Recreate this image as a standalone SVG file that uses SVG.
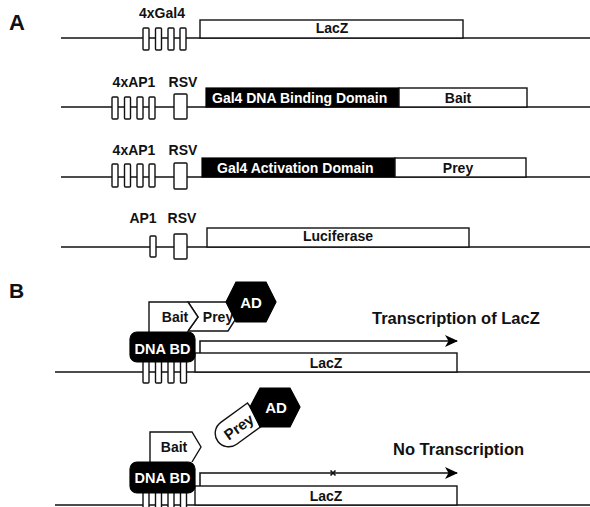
<svg xmlns="http://www.w3.org/2000/svg" width="590" height="507" viewBox="0 0 590 507">
<style>
  text { font-family: "Liberation Sans", Arial, Helvetica, sans-serif; font-weight: bold; fill: #111; }
  .lbl { font-size: 14px; }
  .big { font-size: 16.5px; }
  .panel { font-size: 22px; }
  .wt { fill: #fff; }
  .mid { text-anchor: middle; }
  .box { fill: #fff; stroke: #111; stroke-width: 1.4; }
  .blk { fill: #000; stroke: #000; stroke-width: 1.2; }
  .ln { fill: none; stroke: #111; stroke-width: 1.5; }
</style>
<defs>
  <marker id="ah" viewBox="0 0 13 12" refX="12" refY="6" markerWidth="13" markerHeight="12" markerUnits="userSpaceOnUse" orient="auto">
    <path d="M0,0 L13,6 L0,12 L3.5,6 Z" fill="#000"/>
  </marker>
</defs>
<rect width="590" height="507" fill="#fff"/>

<text class="panel" x="9" y="30">A</text>
<text class="panel" x="9" y="298" style="font-size:21px">B</text>

<g id="connectors">
  <line class="ln" x1="61" y1="38" x2="590" y2="38"/>
  <line class="ln" x1="61" y1="107" x2="590" y2="107"/>
  <line class="ln" x1="61" y1="177" x2="590" y2="177"/>
  <line class="ln" x1="61" y1="247" x2="590" y2="247"/>
  <line class="ln" x1="55" y1="372" x2="590" y2="372"/>
  <line class="ln" x1="55" y1="505" x2="590" y2="505"/>
  <path class="ln" d="M200,353 V341 H457" marker-end="url(#ah)"/>
  <path class="ln" d="M200,486 V473 H457" marker-end="url(#ah)"/>
  <path d="M330.5,470.5 L335.5,475.5 M335.5,470.5 L330.5,475.5" stroke="#111" stroke-width="1.6"/>
</g>

<g id="row1">
  <text class="lbl mid" x="162" y="18">4xGal4</text>
  <rect class="box" x="143" y="28" width="6" height="22" rx="1"/>
  <rect class="box" x="155.5" y="28" width="6" height="22" rx="1"/>
  <rect class="box" x="168" y="28" width="6" height="22" rx="1"/>
  <rect class="box" x="180" y="28" width="6" height="22" rx="1"/>
  <rect class="box" x="200" y="20" width="263" height="18"/>
  <text class="lbl mid" x="332" y="33">LacZ</text>
</g>

<g id="row2">
  <text class="lbl mid" x="134" y="87">4xAP1</text>
  <text class="lbl mid" x="183" y="87">RSV</text>
  <rect class="box" x="112" y="97" width="6" height="22" rx="1"/>
  <rect class="box" x="124.5" y="97" width="6" height="22" rx="1"/>
  <rect class="box" x="137" y="97" width="6" height="22" rx="1"/>
  <rect class="box" x="149" y="97" width="6" height="22" rx="1"/>
  <rect class="box" x="174" y="94" width="13" height="25" rx="1"/>
  <rect class="blk" x="206" y="88" width="193" height="19"/>
  <rect class="box" x="399" y="88" width="128" height="19"/>
  <text class="lbl wt" x="212" y="102.5">Gal4 DNA Binding Domain</text>
  <text class="lbl mid" x="458" y="102.5">Bait</text>
</g>

<g id="row3">
  <text class="lbl mid" x="134" y="155">4xAP1</text>
  <text class="lbl mid" x="183" y="155">RSV</text>
  <rect class="box" x="112" y="164" width="6" height="23" rx="1"/>
  <rect class="box" x="124.5" y="164" width="6" height="23" rx="1"/>
  <rect class="box" x="137" y="164" width="6" height="23" rx="1"/>
  <rect class="box" x="149" y="164" width="6" height="23" rx="1"/>
  <rect class="box" x="174" y="163" width="13" height="26" rx="1"/>
  <rect class="blk" x="202" y="158" width="193" height="19"/>
  <rect class="box" x="395" y="158" width="131" height="19"/>
  <text class="lbl wt" x="217" y="172.5">Gal4 Activation Domain</text>
  <text class="lbl mid" x="458" y="172.5">Prey</text>
</g>

<g id="row4">
  <text class="lbl mid" x="143" y="223">AP1</text>
  <text class="lbl mid" x="182" y="223">RSV</text>
  <rect class="box" x="150" y="236" width="6" height="21" rx="1"/>
  <rect class="box" x="174" y="234" width="13" height="25" rx="1"/>
  <rect class="box" x="207" y="228" width="262" height="19"/>
  <text class="lbl mid" x="338" y="241">Luciferase</text>
</g>

<g id="b-top">
  <rect class="box" x="143" y="360" width="6" height="23" rx="1"/>
  <rect class="box" x="155.5" y="360" width="6" height="23" rx="1"/>
  <rect class="box" x="168" y="360" width="6" height="23" rx="1"/>
  <rect class="box" x="180.5" y="360" width="6" height="23" rx="1"/>
  <rect class="box" x="195" y="353" width="262" height="19"/>
  <text class="lbl mid" x="326" y="367.5">LacZ</text>
  <path class="box" d="M188,302 H228 L237,317 L228,331 H188 L198,317 Z"/>
  <path class="box" d="M149,333 V302 H188 L198,317 L188,331"/>
  <text class="lbl mid" x="175" y="322">Bait</text>
  <text class="lbl mid" x="218" y="322">Prey</text>
  <path class="blk" d="M226,302 L236,282 H266 L276,302 L266,322 H236 Z"/>
  <text class="lbl wt mid" x="251" y="307.5" style="font-size:15px">AD</text>
  <rect class="blk" x="130" y="332" width="65" height="30" rx="7"/>
  <text class="lbl wt mid" x="162.5" y="354" style="font-size:14.5px">DNA BD</text>
  <text class="big" x="372" y="324">Transcription of LacZ</text>
</g>

<g id="b-bottom">
  <rect class="box" x="143" y="491" width="6" height="22" rx="1"/>
  <rect class="box" x="155.5" y="491" width="6" height="22" rx="1"/>
  <rect class="box" x="168" y="491" width="6" height="22" rx="1"/>
  <rect class="box" x="180.5" y="491" width="6" height="22" rx="1"/>
  <rect class="box" x="195" y="486" width="262" height="19"/>
  <text class="lbl mid" x="326" y="501">LacZ</text>
  <path class="box" d="M150,463 V432 H192 L201,447 L192,462"/>
  <text class="lbl mid" x="174" y="452">Bait</text>
  <g transform="translate(236,428) rotate(-36)">
    <path class="box" d="M24,-13.5 H-9 A13.5,13.5 0 0 0 -9,13.5 H24 Z"/>
    <text class="lbl mid" x="3" y="6" style="font-size:15px">Prey</text>
  </g>
  <path class="blk" d="M250,407 L260,388 H290 L300,407 L290,427 H260 Z"/>
  <text class="lbl wt mid" x="276" y="413" style="font-size:15px">AD</text>
  <rect class="blk" x="130" y="462" width="65" height="31" rx="7"/>
  <text class="lbl wt mid" x="162.5" y="483" style="font-size:14.5px">DNA BD</text>
  <text class="big" x="393" y="455">No Transcription</text>
</g>
</svg>
